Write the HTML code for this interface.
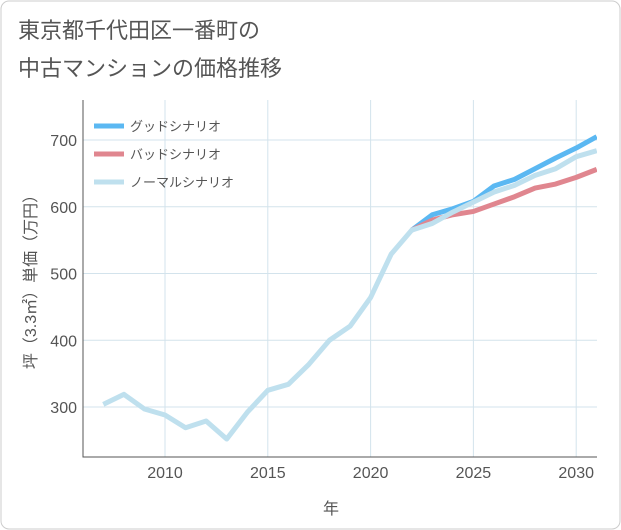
<!DOCTYPE html>
<html><head><meta charset="utf-8"><style>
body{margin:0;background:#fff;}
svg{display:block;font-family:"Liberation Sans","Noto Sans CJK JP",sans-serif;}
</style></head><body>
<svg width="621" height="530">
<rect x="1" y="1" width="619" height="528" rx="8" fill="#fff" stroke="#ccc"/>
<text x="18" y="38" font-size="22" fill="#555">東京都千代田区一番町の</text>
<text x="18" y="76" font-size="22" fill="#555">中古マンションの価格推移</text>
<g id="grid"></g>
<g id="series"></g>
<g id="legend"></g>
<text x="331" y="514" font-size="16" fill="#555" text-anchor="middle">年</text>
<text transform="translate(36,278) rotate(-90)" font-size="16" fill="#555" text-anchor="middle">坪（3.3㎡）単価（万円）</text>
</svg>
<script>
const years=[2007,2008,2009,2010,2011,2012,2013,2014,2015,2016,2017,2018,2019,2020,2021,2022,2023,2024,2025,2026,2027,2028,2029,2030,2031];
const normal=[304,319,297,288,269,279,252,292,325,334,364,400,421,464,529,565,575,592,607,622,632,647,657,675,684];
const futureYears=[2022,2023,2024,2025,2026,2027,2028,2029,2030,2031];
const good=[565,588,597,608,631,641,657,673,688,705];
const bad=[565,580,588,593,604,615,628,634,644,656];
const xTicks=[2010,2015,2020,2025,2030];
const yTicks=[300,400,500,600,700];
const L=83,R=597,T=100,B=457;
const x=v=>165+(v-2010)*20.56;
const y=v=>407-(v-300)*0.6675;
const NS="http://www.w3.org/2000/svg";
function mk(t,a,p){const e=document.createElementNS(NS,t);for(const k in a)e.setAttribute(k,a[k]);p.appendChild(e);return e;}
const g=document.getElementById('grid');
xTicks.forEach(v=>{
 const l=mk('line',{x1:x(v),x2:x(v),y1:T,y2:B,stroke:'#d3e3ec'},g);
 
 
 const t=mk('text',{x:x(v),y:478,'font-size':16,fill:'#555','text-anchor':'middle'},g);t.textContent=v;
 
 
});
yTicks.forEach(v=>{
 const l=mk('line',{x1:L,x2:R,y1:y(v),y2:y(v),stroke:'#d3e3ec'},g);
 
 
 const t=mk('text',{x:77,y:y(v)+6,'font-size':16,fill:'#555','text-anchor':'end'},g);t.textContent=v;
 
 
});
const ax=mk('path',{d:`M${L} ${T}V${B}H${R}`,fill:'none',stroke:'#555'},g);


const s=document.getElementById('series');
mk('clipPath',{id:'cp'},s).appendChild(document.createElementNS(NS,'rect'));
const cr=s.querySelector('clipPath rect');cr.setAttribute('x',L);cr.setAttribute('y',T);cr.setAttribute('width',R-L);cr.setAttribute('height',B-T);
function line(xs,vs,c,name){
 const p=mk('polyline',{points:xs.map((v,i)=>x(v)+','+y(vs[i])).join(' '),fill:'none',stroke:c,'stroke-width':5,'stroke-linejoin':'round','clip-path':'url(#cp)'},s);
 
 
}
line(futureYears,good,'#5bb8f2','good-scenario-line');
line(futureYears,bad,'#e0868f','bad-scenario-line');
line(years,normal,'#bfe0ee','normal-scenario-line');
const lg=document.getElementById('legend');
[['グッドシナリオ','#5bb8f2'],['バッドシナリオ','#e0868f'],['ノーマルシナリオ','#bfe0ee']].forEach((d,i)=>{
 const yy=126+i*28;
 const l=mk('line',{x1:94,x2:124,y1:yy,y2:yy,stroke:d[1],'stroke-width':5},lg);
 
 
 const t=mk('text',{x:130,y:yy+5,'font-size':13,fill:'#555'},lg);t.textContent=d[0];
 
 
});
</script>
</body></html>
